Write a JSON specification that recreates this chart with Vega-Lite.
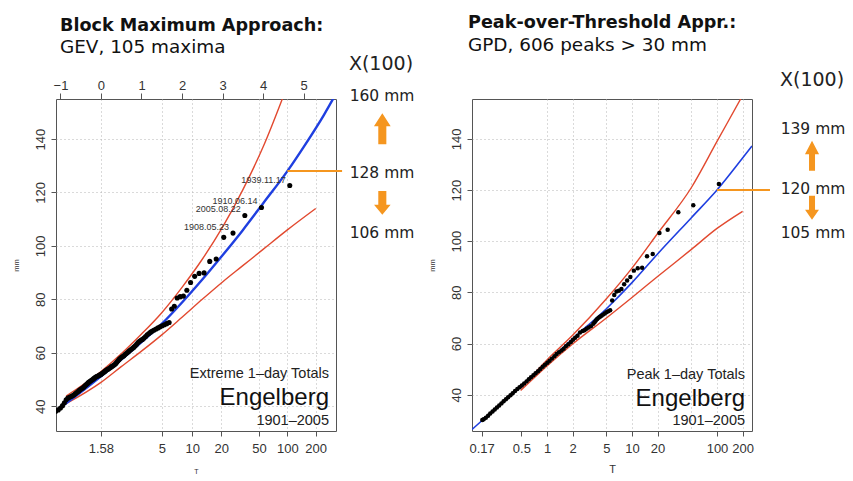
{
  "$schema": "https://vega.github.io/schema/vega-lite/v6.json",
  "background": "white",
  "padding": {"left": 11, "top": 13, "right": 0, "bottom": 0},
  "bounds": "flush",
  "spacing": 136,
  "config": {
    "font": "Liberation Sans",
    "view": {"stroke": "#555555", "strokeWidth": 1},
    "axis": {
      "domain": false,
      "labelFont": "Liberation Sans",
      "labelFontSize": 13,
      "labelColor": "#333333",
      "tickColor": "#555555",
      "tickSize": 5,
      "titleFont": "Liberation Sans",
      "titleFontWeight": "normal",
      "titleColor": "#333333",
      "gridColor": "#b5b5b5",
      "gridDash": [1, 3],
      "gridWidth": 1,
      "labelFlush": false,
      "labelOverlap": false
    },
    "title": {
      "font": "DejaVu Sans",
      "fontSize": 17.6,
      "fontWeight": "bold",
      "color": "#111111",
      "subtitleFont": "DejaVu Sans",
      "subtitleFontSize": 18.4,
      "subtitleColor": "#111111",
      "subtitlePadding": 4,
      "anchor": "start",
      "frame": "group"
    }
  },
  "datasets": {
    "gev_pts": [
      {"rv": -1.540, "mm": 33.6}, {"rv": -1.379, "mm": 35.6}, {"rv": -1.271, "mm": 36.8}, {"rv": -1.187, "mm": 37.5},
      {"rv": -1.116, "mm": 38.0}, {"rv": -1.055, "mm": 38.6}, {"rv": -1.000, "mm": 39.3}, {"rv": -0.949, "mm": 40.2},
      {"rv": -0.903, "mm": 41.3}, {"rv": -0.859, "mm": 42.4}, {"rv": -0.818, "mm": 43.0}, {"rv": -0.779, "mm": 43.3},
      {"rv": -0.741, "mm": 43.6}, {"rv": -0.705, "mm": 43.9}, {"rv": -0.671, "mm": 44.2}, {"rv": -0.637, "mm": 44.6},
      {"rv": -0.605, "mm": 45.0}, {"rv": -0.573, "mm": 45.4}, {"rv": -0.542, "mm": 45.8}, {"rv": -0.512, "mm": 46.2},
      {"rv": -0.482, "mm": 46.5}, {"rv": -0.453, "mm": 46.8}, {"rv": -0.424, "mm": 47.2}, {"rv": -0.396, "mm": 47.6},
      {"rv": -0.368, "mm": 48.0}, {"rv": -0.340, "mm": 48.4}, {"rv": -0.313, "mm": 48.8}, {"rv": -0.286, "mm": 49.1},
      {"rv": -0.259, "mm": 49.4}, {"rv": -0.233, "mm": 49.7}, {"rv": -0.207, "mm": 50.0}, {"rv": -0.180, "mm": 50.3},
      {"rv": -0.154, "mm": 50.6}, {"rv": -0.129, "mm": 50.9}, {"rv": -0.103, "mm": 51.1}, {"rv": -0.077, "mm": 51.3},
      {"rv": -0.051, "mm": 51.5}, {"rv": -0.026, "mm": 51.7}, {"rv": 0.000, "mm": 51.9}, {"rv": 0.026, "mm": 52.2},
      {"rv": 0.052, "mm": 52.5}, {"rv": 0.077, "mm": 52.8}, {"rv": 0.103, "mm": 53.1}, {"rv": 0.129, "mm": 53.4},
      {"rv": 0.155, "mm": 53.7}, {"rv": 0.181, "mm": 53.9}, {"rv": 0.207, "mm": 54.2}, {"rv": 0.233, "mm": 54.5},
      {"rv": 0.259, "mm": 54.8}, {"rv": 0.286, "mm": 55.0}, {"rv": 0.313, "mm": 55.3}, {"rv": 0.339, "mm": 55.6},
      {"rv": 0.367, "mm": 56.0}, {"rv": 0.394, "mm": 56.5}, {"rv": 0.421, "mm": 57.0}, {"rv": 0.449, "mm": 57.5},
      {"rv": 0.477, "mm": 57.9}, {"rv": 0.506, "mm": 58.3}, {"rv": 0.535, "mm": 58.6}, {"rv": 0.564, "mm": 58.9},
      {"rv": 0.593, "mm": 59.3}, {"rv": 0.623, "mm": 59.7}, {"rv": 0.653, "mm": 60.1}, {"rv": 0.684, "mm": 60.5},
      {"rv": 0.715, "mm": 60.9}, {"rv": 0.747, "mm": 61.3}, {"rv": 0.779, "mm": 61.7}, {"rv": 0.812, "mm": 62.1},
      {"rv": 0.846, "mm": 62.6}, {"rv": 0.880, "mm": 63.2}, {"rv": 0.914, "mm": 63.8}, {"rv": 0.950, "mm": 64.3},
      {"rv": 0.986, "mm": 64.7}, {"rv": 1.023, "mm": 65.0}, {"rv": 1.062, "mm": 65.5}, {"rv": 1.101, "mm": 66.1},
      {"rv": 1.141, "mm": 66.7}, {"rv": 1.182, "mm": 67.2}, {"rv": 1.224, "mm": 67.7}, {"rv": 1.268, "mm": 68.1},
      {"rv": 1.313, "mm": 68.5}, {"rv": 1.360, "mm": 68.9}, {"rv": 1.408, "mm": 69.3}, {"rv": 1.458, "mm": 69.7},
      {"rv": 1.511, "mm": 70.1}, {"rv": 1.565, "mm": 70.5}, {"rv": 1.622, "mm": 70.9}, {"rv": 1.682, "mm": 71.3},
      {"rv": 1.744, "mm": 76.4}, {"rv": 1.810, "mm": 77.4}, {"rv": 1.880, "mm": 80.5}, {"rv": 1.954, "mm": 81.0},
      {"rv": 2.034, "mm": 81.2}, {"rv": 2.119, "mm": 83.4}, {"rv": 2.211, "mm": 86.3}, {"rv": 2.312, "mm": 88.6},
      {"rv": 2.422, "mm": 89.7}, {"rv": 2.545, "mm": 89.9}, {"rv": 2.684, "mm": 94.2}, {"rv": 2.843, "mm": 95.1},
      {"rv": 3.030, "mm": 103.2},
      {"rv": 3.258, "mm": 104.8, "date": "1908.05.23"},
      {"rv": 3.550, "mm": 111.4, "date": "2005.08.22"},
      {"rv": 3.961, "mm": 114.4, "date": "1910.06.14"},
      {"rv": 4.659, "mm": 122.6, "date": "1939.11.17"}
    ],
    "gev_fit": [
      {"rv": -1.11, "mm": 38.3}, {"rv": -0.5, "mm": 45.2}, {"rv": 0, "mm": 51.2}, {"rv": 0.5, "mm": 57.4},
      {"rv": 1, "mm": 64.0}, {"rv": 1.5, "mm": 70.8}, {"rv": 2, "mm": 78.8}, {"rv": 2.5, "mm": 87.4},
      {"rv": 3, "mm": 96.5}, {"rv": 3.5, "mm": 105.9}, {"rv": 4, "mm": 115.9}, {"rv": 4.6, "mm": 128.0},
      {"rv": 5, "mm": 137.0}, {"rv": 5.5, "mm": 149.0}, {"rv": 5.8, "mm": 157.0}
    ],
    "gev_upper": [
      {"rv": -0.86, "mm": 43.8}, {"rv": 0, "mm": 53.0}, {"rv": 0.5, "mm": 59.6}, {"rv": 1, "mm": 67.0},
      {"rv": 1.5, "mm": 75.0}, {"rv": 2, "mm": 84.5}, {"rv": 2.5, "mm": 95.0}, {"rv": 3, "mm": 107.0},
      {"rv": 3.5, "mm": 121.0}, {"rv": 4, "mm": 137.0}, {"rv": 4.6, "mm": 160.0}
    ],
    "gev_lower": [
      {"rv": -0.86, "mm": 40.9}, {"rv": 0, "mm": 48.9}, {"rv": 0.5, "mm": 54.8}, {"rv": 1, "mm": 60.6},
      {"rv": 1.5, "mm": 66.7}, {"rv": 2, "mm": 73.3}, {"rv": 2.5, "mm": 80.0}, {"rv": 3, "mm": 86.5},
      {"rv": 3.5, "mm": 92.6}, {"rv": 4, "mm": 98.7}, {"rv": 4.6, "mm": 106.0}, {"rv": 5.3, "mm": 114.0}
    ],
    "gpd_pts": [
      {"T": 105.2, "mm": 122.4}, {"T": 52.59, "mm": 114.1}, {"T": 35.06, "mm": 111.3}, {"T": 26.29, "mm": 104.5},
      {"T": 21.03, "mm": 103.2}, {"T": 17.53, "mm": 95.0}, {"T": 15.02, "mm": 94.1}, {"T": 13.15, "mm": 89.6},
      {"T": 11.69, "mm": 89.4}, {"T": 10.52, "mm": 88.5}, {"T": 9.561, "mm": 86.0}, {"T": 8.764, "mm": 84.6},
      {"T": 8.090, "mm": 83.2}, {"T": 7.512, "mm": 81.3}, {"T": 7.011, "mm": 80.6}, {"T": 6.573, "mm": 80.3},
      {"T": 6.186, "mm": 79.0}, {"T": 5.843, "mm": 76.8}, {"T": 5.535, "mm": 73.0}, {"T": 5.259, "mm": 72.6},
      {"T": 5.008, "mm": 72.2}, {"T": 4.780, "mm": 71.7}, {"T": 4.573, "mm": 71.3}, {"T": 4.382, "mm": 70.9},
      {"T": 4.207, "mm": 70.5}, {"T": 4.045, "mm": 70.1}, {"T": 3.895, "mm": 69.6}, {"T": 3.756, "mm": 69.0},
      {"T": 3.627, "mm": 68.3}, {"T": 3.506, "mm": 67.7}, {"T": 3.287, "mm": 66.8}, {"T": 3.093, "mm": 66.3},
      {"T": 2.921, "mm": 65.8}, {"T": 2.768, "mm": 65.2}, {"T": 2.629, "mm": 64.9}, {"T": 2.446, "mm": 64.3},
      {"T": 2.286, "mm": 63.0}, {"T": 2.146, "mm": 62.3}, {"T": 2.022, "mm": 61.5}, {"T": 1.912, "mm": 60.6},
      {"T": 1.783, "mm": 59.7}, {"T": 1.669, "mm": 58.9}, {"T": 1.570, "mm": 58.0}, {"T": 1.481, "mm": 57.3},
      {"T": 1.384, "mm": 56.6}, {"T": 1.298, "mm": 55.9}, {"T": 1.223, "mm": 55.0}, {"T": 1.143, "mm": 54.1},
      {"T": 1.073, "mm": 53.3}, {"T": 1.011, "mm": 52.5}, {"T": 0.947, "mm": 51.7}, {"T": 0.891, "mm": 50.9},
      {"T": 0.835, "mm": 50.0}, {"T": 0.785, "mm": 49.2}, {"T": 0.735, "mm": 48.4}, {"T": 0.692, "mm": 47.6},
      {"T": 0.649, "mm": 46.8}, {"T": 0.611, "mm": 46.0}, {"T": 0.575, "mm": 45.2}, {"T": 0.539, "mm": 44.4},
      {"T": 0.506, "mm": 43.6}, {"T": 0.476, "mm": 42.9}, {"T": 0.448, "mm": 42.2}, {"T": 0.421, "mm": 41.4},
      {"T": 0.395, "mm": 40.6}, {"T": 0.372, "mm": 39.8}, {"T": 0.349, "mm": 39.0}, {"T": 0.329, "mm": 38.2},
      {"T": 0.309, "mm": 37.4}, {"T": 0.291, "mm": 36.6}, {"T": 0.274, "mm": 35.8}, {"T": 0.258, "mm": 35.0},
      {"T": 0.243, "mm": 34.2}, {"T": 0.229, "mm": 33.4}, {"T": 0.215, "mm": 32.6}, {"T": 0.203, "mm": 31.8},
      {"T": 0.191, "mm": 31.0}, {"T": 0.180, "mm": 30.4}, {"T": 0.1735, "mm": 30.1}
    ],
    "gpd_fit": [
      {"T": 0.1312, "mm": 26.4}, {"T": 0.1735, "mm": 30.0}, {"T": 0.3, "mm": 37.0}, {"T": 0.5, "mm": 43.5},
      {"T": 1, "mm": 52.5}, {"T": 2, "mm": 61.8}, {"T": 5, "mm": 73.6}, {"T": 10, "mm": 83.8},
      {"T": 20, "mm": 95.0}, {"T": 50, "mm": 109.2}, {"T": 100, "mm": 120.0}, {"T": 200, "mm": 132.5},
      {"T": 258, "mm": 137.2}
    ],
    "gpd_upper": [
      {"T": 0.49, "mm": 42.6}, {"T": 1, "mm": 53.6}, {"T": 2, "mm": 63.2}, {"T": 5, "mm": 77.5},
      {"T": 10, "mm": 89.5}, {"T": 20, "mm": 103.0}, {"T": 50, "mm": 121.0}, {"T": 100, "mm": 139.0},
      {"T": 200, "mm": 157.0}
    ],
    "gpd_lower": [
      {"T": 0.49, "mm": 41.6}, {"T": 1, "mm": 51.2}, {"T": 2, "mm": 59.8}, {"T": 5, "mm": 70.0},
      {"T": 10, "mm": 78.0}, {"T": 20, "mm": 86.2}, {"T": 50, "mm": 96.8}, {"T": 100, "mm": 105.0},
      {"T": 200, "mm": 111.7}
    ]
  },
  "hconcat": [
    {
      "width": 280,
      "height": 332,
      "title": {"text": "Block Maximum Approach:", "subtitle": "GEV, 105 maxima", "dx": 4, "offset": -2},
      "resolve": {"axis": {"x": "independent"}},
      "encoding": {
        "y": {
          "field": "mm", "type": "quantitative",
          "scale": {"domain": [30.7, 155], "nice": false, "zero": false},
          "axis": {"values": [40, 60, 80, 100, 120, 140], "title": "mm", "titleFontSize": 7.5, "titlePadding": 14,
                   "grid": true, "labelAngle": -90, "labelAlign": "center", "labelBaseline": "bottom", "labelPadding": 4}
        }
      },
      "layer": [
        {
          "data": {"name": "gev_upper"},
          "mark": {"type": "line", "color": "#e2492f", "strokeWidth": 1.4, "interpolate": "monotone", "clip": true},
          "encoding": {
            "x": {
              "field": "rv", "type": "quantitative",
              "scale": {"domain": [-1.11, 5.8], "nice": false, "zero": false},
              "axis": {
                "orient": "bottom",
                "values": [-0.0021, 1.4999, 2.2504, 2.9702, 3.9019, 4.6001, 5.2958],
                "labelExpr": "datum.value < 1 ? '1.58' : datum.value < 2 ? '5' : datum.value < 2.6 ? '10' : datum.value < 3.5 ? '20' : datum.value < 4.2 ? '50' : datum.value < 5 ? '100' : '200'",
                "grid": true, "title": "T", "titleFontSize": 7, "titlePadding": 12, "labelPadding": 6
              }
            }
          }
        },
        {
          "data": {"name": "gev_lower"},
          "mark": {"type": "line", "color": "#e2492f", "strokeWidth": 1.4, "interpolate": "monotone", "clip": true},
          "encoding": {"x": {"field": "rv", "type": "quantitative", "axis": null}}
        },
        {
          "data": {"name": "gev_fit"},
          "mark": {"type": "line", "color": "#1f3fe0", "strokeWidth": 2.4, "interpolate": "monotone", "clip": true},
          "encoding": {
            "x": {
              "field": "rv", "type": "quantitative",
              "axis": {"orient": "top", "values": [-1, 0, 1, 2, 3, 4, 5], "title": null, "grid": false, "labelPadding": 1, "tickSize": 6}
            }
          }
        },
        {
          "data": {"name": "gev_pts"},
          "mark": {"type": "circle", "size": 26, "color": "#000000", "opacity": 1, "clip": true},
          "encoding": {"x": {"field": "rv", "type": "quantitative", "axis": null}}
        },
        {
          "data": {"name": "gev_pts"},
          "transform": [{"filter": "isValid(datum.date)"}],
          "mark": {"type": "text", "align": "right", "baseline": "alphabetic", "dx": -4, "dy": -3, "fontSize": 9, "color": "#333333"},
          "encoding": {"x": {"field": "rv", "type": "quantitative", "axis": null}, "text": {"field": "date"}}
        },
        {
          "data": {"values": [{"rv": 4.6, "rv_end": 5.95, "mm": 128}]},
          "mark": {"type": "rule", "color": "#f5961f", "strokeWidth": 2},
          "encoding": {"x": {"field": "rv", "type": "quantitative", "axis": null}, "x2": {"field": "rv_end"}}
        },
        {
          "data": {"values": [{"rv": 6.91, "mm": 165.9, "label": "X(100)"}]},
          "mark": {"type": "text", "font": "DejaVu Sans", "fontSize": 19, "align": "center", "baseline": "alphabetic", "color": "#222222"},
          "encoding": {"x": {"field": "rv", "type": "quantitative", "axis": null}, "text": {"field": "label"}}
        },
        {
          "data": {"values": [
            {"rv": 6.935, "mm": 154.1, "label": "160 mm"},
            {"rv": 6.935, "mm": 125.6, "label": "128 mm"},
            {"rv": 6.935, "mm": 102.9, "label": "106 mm"}
          ]},
          "mark": {"type": "text", "font": "DejaVu Sans", "fontSize": 15.5, "align": "center", "baseline": "alphabetic", "color": "#222222"},
          "encoding": {"x": {"field": "rv", "type": "quantitative", "axis": null}, "text": {"field": "label"}}
        },
        {
          "data": {"values": [{"rv": 6.943, "mm": 143.9}]},
          "mark": {"type": "point", "filled": true, "color": "#f5961f", "opacity": 1, "size": 961,
                   "shape": "M0,-1L0.54,-0.16L0.26,-0.16L0.26,1L-0.26,1L-0.26,-0.16L-0.54,-0.16Z"},
          "encoding": {"x": {"field": "rv", "type": "quantitative", "axis": null}}
        },
        {
          "data": {"values": [{"rv": 6.943, "mm": 116.1}]},
          "mark": {"type": "point", "filled": true, "color": "#f5961f", "opacity": 1, "size": 562,
                   "shape": "M0,1L0.7,0.16L0.34,0.16L0.34,-1L-0.34,-1L-0.34,0.16L-0.7,0.16Z"},
          "encoding": {"x": {"field": "rv", "type": "quantitative", "axis": null}}
        },
        {
          "data": {"values": [{"rv": 5.627, "mm": 50.5, "label": "Extreme 1–day Totals"}, {"rv": 5.627, "mm": 33.1, "label": "1901–2005"}]},
          "mark": {"type": "text", "fontSize": 14.5, "align": "right", "baseline": "alphabetic", "color": "#222222"},
          "encoding": {"x": {"field": "rv", "type": "quantitative", "axis": null}, "text": {"field": "label"}}
        },
        {
          "data": {"values": [{"rv": 5.627, "mm": 40.5, "label": "Engelberg"}]},
          "mark": {"type": "text", "fontSize": 24, "align": "right", "baseline": "alphabetic", "color": "#111111"},
          "encoding": {"x": {"field": "rv", "type": "quantitative", "axis": null}, "text": {"field": "label"}}
        }
      ]
    },
    {
      "width": 280,
      "height": 332,
      "title": {"text": "Peak-over-Threshold Appr.:", "subtitle": "GPD, 606 peaks > 30 mm", "dx": -4, "offset": 17},
      "encoding": {
        "y": {
          "field": "mm", "type": "quantitative",
          "scale": {"domain": [25.8, 155.6], "nice": false, "zero": false},
          "axis": {"values": [40, 60, 80, 100, 120, 140], "title": "mm", "titleFontSize": 7.5, "titlePadding": 14,
                   "grid": true, "labelAngle": -90, "labelAlign": "center", "labelBaseline": "bottom", "labelPadding": 4}
        },
        "x": {
          "field": "T", "type": "quantitative",
          "scale": {"type": "log", "domain": [0.1312, 258], "nice": false},
          "axis": {
            "orient": "bottom",
            "values": [0.17, 0.5, 1, 2, 5, 10, 20, 50, 100, 200],
            "labelExpr": "datum.value == 50 ? '' : '' + datum.value",
            "grid": true,
            "gridOpacity": {"condition": {"test": "datum.value < 0.6", "value": 0}, "value": 1},
            "tickOpacity": {"condition": {"test": "datum.value == 50", "value": 0}, "value": 1},
            "title": "T", "titleFontSize": 11, "titlePadding": 8, "labelPadding": 6
          }
        }
      },
      "layer": [
        {
          "data": {"name": "gpd_upper"},
          "mark": {"type": "line", "color": "#e2492f", "strokeWidth": 1.4, "interpolate": "monotone", "clip": true}
        },
        {
          "data": {"name": "gpd_lower"},
          "mark": {"type": "line", "color": "#e2492f", "strokeWidth": 1.4, "interpolate": "monotone", "clip": true}
        },
        {
          "data": {"name": "gpd_fit"},
          "mark": {"type": "line", "color": "#1f3fe0", "strokeWidth": 1.6, "interpolate": "monotone", "clip": true}
        },
        {
          "data": {"name": "gpd_pts"},
          "mark": {"type": "circle", "size": 20, "color": "#000000", "opacity": 1, "clip": true}
        },
        {
          "data": {"values": [{"T": 100, "T_end": 420, "mm": 120}]},
          "mark": {"type": "rule", "color": "#f5961f", "strokeWidth": 2},
          "encoding": {"x2": {"field": "T_end"}}
        },
        {
          "data": {"values": [{"T": 1311, "mm": 160.7, "label": "X(100)"}]},
          "mark": {"type": "text", "font": "DejaVu Sans", "fontSize": 19, "align": "center", "baseline": "alphabetic", "color": "#222222"},
          "encoding": {"text": {"field": "label"}}
        },
        {
          "data": {"values": [
            {"T": 1346, "mm": 141.8, "label": "139 mm"},
            {"T": 1346, "mm": 118.5, "label": "120 mm"},
            {"T": 1346, "mm": 101.3, "label": "105 mm"}
          ]},
          "mark": {"type": "text", "font": "DejaVu Sans", "fontSize": 15.5, "align": "center", "baseline": "alphabetic", "color": "#222222"},
          "encoding": {"text": {"field": "label"}}
        },
        {
          "data": {"values": [{"T": 1311, "mm": 133.4}]},
          "mark": {"type": "point", "filled": true, "color": "#f5961f", "opacity": 1, "size": 900,
                   "shape": "M0,-1L0.47,-0.11L0.2,-0.11L0.2,1L-0.2,1L-0.2,-0.11L-0.47,-0.11Z"}
        },
        {
          "data": {"values": [{"T": 1311, "mm": 113.1}]},
          "mark": {"type": "point", "filled": true, "color": "#f5961f", "opacity": 1, "size": 576,
                   "shape": "M0,1L0.58,0.17L0.25,0.17L0.25,-1L-0.25,-1L-0.25,0.17L-0.58,0.17Z"}
        },
        {
          "data": {"values": [{"T": 213.5, "mm": 46.0, "label": "Peak 1–day Totals"}, {"T": 213.5, "mm": 28.1, "label": "1901–2005"}]},
          "mark": {"type": "text", "fontSize": 14.5, "align": "right", "baseline": "alphabetic", "color": "#222222"},
          "encoding": {"text": {"field": "label"}}
        },
        {
          "data": {"values": [{"T": 213.5, "mm": 35.6, "label": "Engelberg"}]},
          "mark": {"type": "text", "fontSize": 24, "align": "right", "baseline": "alphabetic", "color": "#111111"},
          "encoding": {"text": {"field": "label"}}
        }
      ]
    }
  ]
}
